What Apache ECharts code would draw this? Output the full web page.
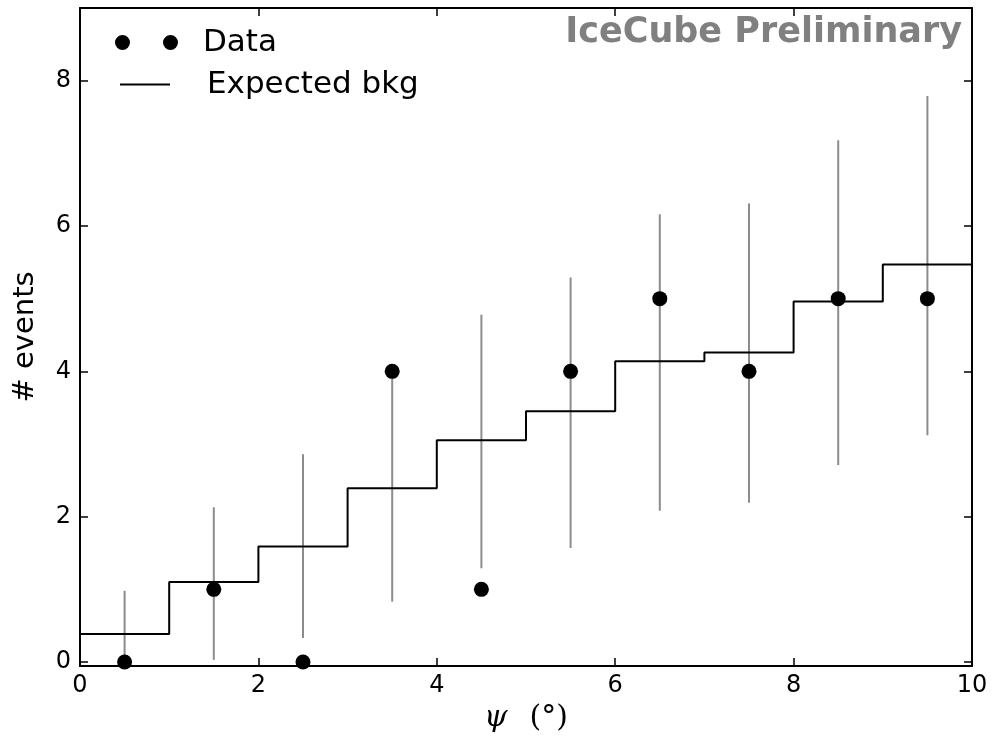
<!DOCTYPE html>
<html>
<head>
<meta charset="utf-8">
<script src="https://cdn.jsdelivr.net/npm/echarts@6/dist/echarts.min.js"></script>
<style>
  html, body { margin: 0; padding: 0; background: #fff; }
  #chart { width: 997px; height: 739px; }
</style>
</head>
<body>
<div id="chart"></div>
<script>
// bin centres in psi (deg) and observed counts
const psiCenters = [0.5, 1.5, 2.5, 3.5, 4.5, 5.5, 6.5, 7.5, 8.5, 9.5]
const counts = [0, 1, 0, 4, 1, 4, 5, 4, 5, 5]
// grey bands around the background expectation
const errLow = [0, 0.03, 0.33, 0.83, 1.29, 1.57, 2.08, 2.19, 2.71, 3.12]
const errHigh = [0.98, 2.13, 2.86, 3.97, 4.78, 5.29, 6.16, 6.31, 7.18, 7.79]
// expected background per bin (step histogram)
const binEdges = [0, 1, 2, 3, 4, 5, 6, 7, 8, 9, 10]
const bkg = [0.385, 1.10, 1.59, 2.39, 3.05, 3.45, 4.14, 4.26, 4.96, 5.47]
const bkgNext = 5.63
const yTicks = [0, 2, 4, 6, 8]

const font = 'DejaVu Sans'

// build step path from the bin edges
const stepData = []
bkg.forEach((v, i) => {
  stepData.push([binEdges[i], v])
  stepData.push([binEdges[i + 1], v])
})
stepData.push([binEdges[binEdges.length - 1], bkgNext])

const scatterData = psiCenters.map((x, i) => [x, counts[i]])
const errData = psiCenters.map((x, i) => [x, errLow[i], errHigh[i]])

const chart = echarts.init(document.getElementById('chart'))

const tickStyle = { show: true, inside: true, length: 8, lineStyle: { color: '#000', width: 1.5 } }
const lineStyle = { show: true, onZero: false, lineStyle: { color: '#000', width: 2 } }

chart.setOption({
  animation: false,
  title: {
    text: 'IceCube Preliminary',
    right: 35,
    top: 15,
    padding: 0,
    textStyle: { fontFamily: font, fontWeight: 'bold', fontSize: 35, color: '#808080' }
  },
  legend: [
    {
      data: [{ name: 'Data', icon: 'path://M0,7.5a7.5,7.5 0 1,0 15,0a7.5,7.5 0 1,0 -15,0zM48,7.5a7.5,7.5 0 1,0 15,0a7.5,7.5 0 1,0 -15,0z' }],
      left: 115,
      top: 27,
      padding: 0,
      itemWidth: 63,
      itemHeight: 15,
      textStyle: { fontFamily: font, fontSize: 31, color: '#000', padding: [0, 0, 0, 20] }
    },
    {
      data: [{ name: 'Expected bkg', icon: 'path://M0,0H50V2H0Z' }],
      left: 120,
      top: 69,
      padding: 0,
      itemWidth: 50,
      itemHeight: 15,
      textStyle: { fontFamily: font, fontSize: 31, color: '#000', padding: [0, 0, 0, 32] }
    }
  ],
  grid: { left: 80, right: 25, top: 8, bottom: 73 },
  xAxis: [
    {
      type: 'value',
      min: 0,
      max: 10,
      interval: 2,
      position: 'bottom',
      name: '{psi|ψ}{deg|(°)}',
      nameLocation: 'middle',
      nameGap: 28,
      nameTextStyle: {
        rich: {
          psi: { fontFamily: 'DejaVu Serif', fontStyle: 'italic', fontSize: 30, color: '#000' },
          deg: { fontFamily: 'DejaVu Serif', fontSize: 30, color: '#000', padding: [0, 0, 0, 22] }
        }
      },
      axisLine: lineStyle,
      axisTick: tickStyle,
      axisLabel: { fontFamily: font, fontSize: 24, color: '#000', margin: 8 },
      splitLine: { show: false }
    },
    {
      type: 'value',
      min: 0,
      max: 10,
      interval: 2,
      position: 'top',
      axisLine: lineStyle,
      axisTick: tickStyle,
      axisLabel: { show: false },
      splitLine: { show: false }
    }
  ],
  yAxis: [
    {
      type: 'value',
      min: -0.055,
      max: 9,
      position: 'left',
      name: '# events',
      nameLocation: 'middle',
      nameGap: 40,
      nameTextStyle: { fontFamily: font, fontSize: 29, color: '#000' },
      axisLine: lineStyle,
      axisTick: Object.assign({ customValues: yTicks }, tickStyle),
      axisLabel: { customValues: yTicks, fontFamily: font, fontSize: 24, color: '#000', margin: 9 },
      splitLine: { show: false }
    },
    {
      type: 'value',
      min: -0.055,
      max: 9,
      position: 'right',
      axisLine: lineStyle,
      axisTick: Object.assign({ customValues: yTicks }, tickStyle),
      axisLabel: { show: false },
      splitLine: { show: false }
    }
  ],
  series: [
    {
      name: 'errors',
      type: 'custom',
      z: 1,
      data: errData,
      renderItem: (params, api) => {
        const p0 = api.coord([api.value(0), api.value(1)])
        const p1 = api.coord([api.value(0), api.value(2)])
        return {
          type: 'line',
          shape: { x1: p0[0], y1: p0[1], x2: p1[0], y2: p1[1] },
          style: { stroke: '#8c8c8c', lineWidth: 2 }
        }
      }
    },
    {
      name: 'Expected bkg',
      type: 'line',
      z: 2,
      data: stepData,
      symbol: 'none',
      showSymbol: false,
      lineStyle: { color: '#000', width: 2 },
      itemStyle: { color: '#000' }
    },
    {
      name: 'Data',
      type: 'scatter',
      z: 3,
      data: scatterData,
      symbolSize: 15,
      itemStyle: { color: '#000', opacity: 1 }
    }
  ]
})
</script>
</body>
</html>
